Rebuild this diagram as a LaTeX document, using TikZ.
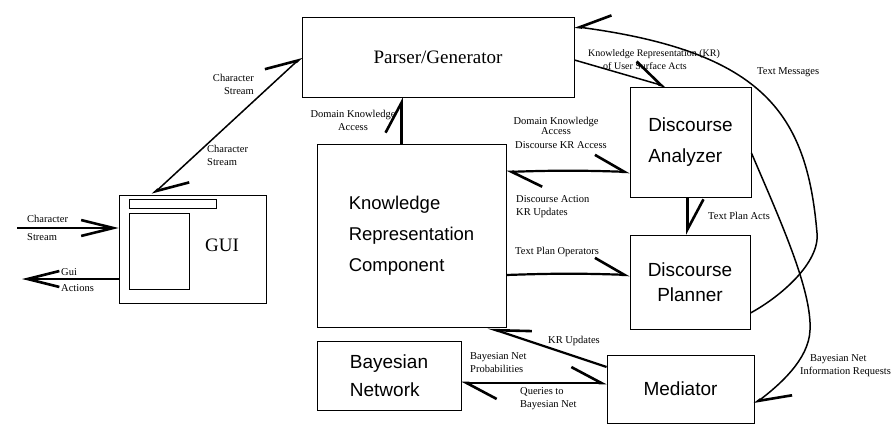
\documentclass[tikz,border=0pt]{standalone}
\usepackage{fontspec}
\setmainfont{Liberation Serif}
\setsansfont{Liberation Sans}
\usetikzlibrary{arrows.meta}

\begin{document}
\begin{tikzpicture}[x=1pt,y=-1pt]
    \tikzstyle{block} = [draw, line width=0.9pt, inner sep=0pt]
    \tikzstyle{big} = [font=\fontsize{19}{31}\selectfont]
    \tikzstyle{bigsans} = [font=\sffamily\fontsize{18.5}{31}\selectfont]
    \tikzstyle{lbl} = [font=\fontsize{10.5}{13}\selectfont, inner sep=0pt]
    \tikzstyle{link} = [line width=2.2pt]
    \tikzstyle{thinlink} = [line width=1.5pt]
    \tikzstyle{fullarrow} = [-{Straight Barb[length=32pt, angle'=28, line width=2.6pt]}]
    \tikzstyle{oneway} = [-{Straight Barb[harpoon, length=30pt, angle'=56, line width=2.6pt]}]
    \tikzstyle{onewayswap} = [-{Straight Barb[harpoon, swap, length=30pt, angle'=56, line width=2.6pt]}]
    \tikzstyle{twoway} = [{Straight Barb[harpoon, length=30pt, angle'=56, line width=2.6pt]}-{Straight Barb[harpoon, length=30pt, angle'=56, line width=2.6pt]}]
    \useasboundingbox (0,0) rectangle (896,425);

    % boxes
    \node[block, big, minimum width=272pt, minimum height=80pt] (parser) at (438,57) {Parser/Generator};
    \node[block, minimum width=147pt, minimum height=108pt] (gui) at (192.5,249) {};
    \node[block, minimum width=87pt, minimum height=9pt] (guibar) at (172.5,203.5) {};
    \node[block, minimum width=60pt, minimum height=76pt] (guipanel) at (159,251) {};
    \node[big] (guitext) at (222,245) {GUI};
    \node[block, bigsans, align=left, minimum width=189pt, minimum height=183pt] (kr) at (411.5,235.5) {Knowledge\\Representation\\Component};
    \node[block, bigsans, font=\sffamily\fontsize{19}{31}\selectfont, align=left, minimum width=121pt, minimum height=110pt] (da) at (690.5,142) {Discourse\\Analyzer};
    \node[block, bigsans, font=\sffamily\fontsize{19}{25}\selectfont, align=center, minimum width=120pt, minimum height=94pt] (dp) at (690,282) {Discourse\\Planner};
    \node[block, bigsans, font=\sffamily\fontsize{19}{28}\selectfont, align=left, minimum width=144pt, minimum height=69pt] (bn) at (389,375.5) {Bayesian\\Network};
    \node[block, bigsans, font=\sffamily\fontsize{19}{28}\selectfont, minimum width=147pt, minimum height=68pt] (med) at (680.5,389) {Mediator};

    % end points
    \coordinate (csin) at (17,228);
    \coordinate (gaout) at (22,279);
    \coordinate (krtop) at ([xshift=-10pt]kr.north);
    \coordinate (dain) at ([yshift=-30pt]da.west);
    \coordinate (dabot) at ([xshift=-3pt]da.south);
    \coordinate (krout) at ([yshift=-39.5pt]kr.east);
    \coordinate (bnout) at ([yshift=-7.5pt]bn.east);

    % connectors
    \draw[link, fullarrow] (csin) -- (csin -| gui.west);
    \draw[link, fullarrow] (gaout -| gui.west) -- (gaout);
    \draw[thinlink, twoway] ([xshift=34pt]gui.north west) -- (parser.west);
    \draw[link, oneway] (krtop) -- (krtop |- parser.south);
    \draw[link, twoway] (kr.east |- dain) to[bend left=2] (dain);
    \draw[link, oneway] (dabot) -- (dabot |- dp.north);
    \draw[link, oneway] (krout) to[bend left=2] (krout -| dp.west);
    \draw[thinlink, oneway] ([yshift=-3pt]parser.east) -- ([xshift=-24.5pt]da.north);
    \draw[link, -{Straight Barb[harpoon, swap, length=34pt, angle'=34, line width=2.6pt]}] ([yshift=22pt]med.west) -- ([xshift=76.5pt]kr.south);
    \draw[link, twoway] (bnout) -- (bnout -| med.west);
    \draw[thinlink, onewayswap] ([yshift=-31pt]dp.east) .. controls (780,297) and (820,263) .. (817,233)
        .. controls (807,115) and (765,52) .. ([yshift=-10pt]parser.north east);
    \draw[thinlink, oneway] ([yshift=-11pt]da.east) .. controls (780,220) and (812,290) .. (810,330)
        .. controls (809,360) and (778,386) .. ([yshift=-15pt]med.east);

    % labels
    \node[lbl, align=left, anchor=west] (csleft) at (27,228) {Character\\[5pt]Stream};
    \node[lbl, align=left, anchor=west] (galeft) at (61,280) {Gui\\[3pt]Actions};
    \node[lbl, align=right, anchor=east] (csup) at (254,84.5) {Character\\Stream};
    \node[lbl, align=left, anchor=west] (csdown) at (207,155.5) {Character\\Stream};
    \node[lbl, align=center] (dkparser) at (353,120) {Domain Knowledge\\Access};
    \node[lbl, font=\fontsize{10.5}{9.5}\selectfont, align=center] (dkda) at (556,126) {Domain Knowledge\\Access};
    \node[lbl, anchor=west] (dkra) at (515,145) {Discourse KR Access};
    \node[lbl, align=left, anchor=west] (dakr) at (516,206.5) {Discourse Action\\KR Updates};
    \node[lbl, anchor=west] (tpa) at (708,216) {Text Plan Acts};
    \node[lbl, anchor=west] (tpo) at (515,252) {Text Plan Operators};
    \node[lbl, anchor=west] (kru) at (548,341) {KR Updates};
    \node[lbl, align=left, anchor=west] (bnp) at (470,362.5) {Bayesian Net\\Probabilities};
    \node[lbl, align=left, anchor=west] (qbn) at (520,398.5) {Queries to\\Bayesian Net};
    \node[lbl, font=\fontsize{10}{12}\selectfont] (krusa) at (654,54) {Knowledge Representation (KR)};
    \node[lbl, font=\fontsize{10}{12}\selectfont] (krusb) at (645,66.5) {of User Surface Acts};
    \node[lbl, anchor=west] (tm) at (757,72) {Text Messages};
    \node[lbl, align=left, anchor=west] (bnir) at (800,365.5) {\hspace*{10pt}Bayesian Net\\Information Requests};
\end{tikzpicture}
\end{document}
